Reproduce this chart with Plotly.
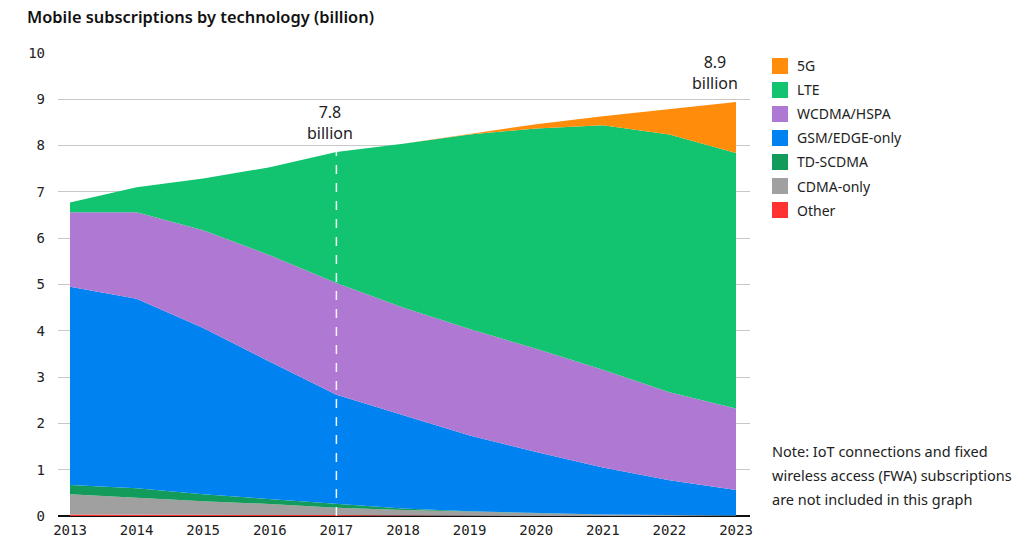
import plotly.graph_objects as go

years = [2013, 2014, 2015, 2016, 2017, 2018, 2019, 2020, 2021, 2022, 2023]

# values in billions, bottom of stack first
other    = [0.03, 0.03, 0.03, 0.02, 0.02, 0.01, 0.00, 0.00, 0.00, 0.00, 0.00]
cdma     = [0.44, 0.36, 0.29, 0.24, 0.16, 0.12, 0.09, 0.06, 0.03, 0.02, 0.01]
tdscdma  = [0.20, 0.21, 0.15, 0.11, 0.08, 0.03, 0.01, 0.00, 0.00, 0.00, 0.00]
gsm      = [4.28, 4.09, 3.59, 2.96, 2.36, 2.02, 1.64, 1.32, 1.02, 0.75, 0.55]
wcdma    = [1.61, 1.87, 2.11, 2.30, 2.41, 2.32, 2.30, 2.23, 2.11, 1.90, 1.76]
lte      = [0.21, 0.54, 1.12, 1.90, 2.83, 3.54, 4.20, 4.76, 5.28, 5.57, 5.52]
fiveg    = [0.00, 0.00, 0.00, 0.00, 0.00, 0.00, 0.01, 0.09, 0.19, 0.54, 1.10]

series_names = ["Other", "CDMA-only", "TD-SCDMA", "GSM/EDGE-only", "WCDMA/HSPA", "LTE", "5G"]
series_values = [other, cdma, tdscdma, gsm, wcdma, lte, fiveg]
series_colors = ["#FF3232", "#A0A0A0", "#129B5A", "#0082F0", "#AF78D2", "#12C46F", "#FF8C0A"]

y_ticks = [0, 1, 2, 3, 4, 5, 6, 7, 8, 9, 10]
callouts = [(2017, 7.85, "7.8<br>billion"), (2023, 8.94, "8.9<br>billion")]

title_text = "Mobile subscriptions by technology (billion)"
note_lines = ["Note: IoT connections and fixed",
              "wireless access (FWA) subscriptions",
              "are not included in this graph"]

SANS = "Noto Sans, Open Sans, sans-serif"
MONO = "DejaVu Sans Mono, monospace"

FW, FH = 1024, 557

fig = go.Figure()
for name, vals, col in zip(series_names, series_values, series_colors):
    fig.add_trace(go.Scatter(
        x=years, y=vals, name=name, mode="lines",
        stackgroup="one", line=dict(width=0, color=col),
        fillcolor=col, showlegend=False, hoverinfo="x+y+name"))

# plot area geometry in page pixels
L, R, T, B = 58, 750, 52, 516
W, H = R - L, B - T

def px_x(px):
    return (px - L) / W

def px_y(py):
    return (B - py) / H

# dashed marker at 2017
fig.add_shape(type="line", xref="x", yref="y", x0=2017, x1=2017, y0=0, y1=8,
              line=dict(color="rgba(255,255,255,0.95)", width=1.5, dash="dash"), layer="above")

# callout annotations
fig.add_annotation(x=2017, y=callouts[0][1], xref="x", yref="y", text=callouts[0][2],
                   showarrow=False, yanchor="bottom", yshift=6, xshift=-6,
                   font=dict(family=SANS, size=16, color="#222"), align="center")
fig.add_annotation(x=2023, y=callouts[1][1], xref="x", yref="y", text=callouts[1][2],
                   showarrow=False, yanchor="bottom", yshift=6, xshift=-21,
                   font=dict(family=SANS, size=16, color="#222"), align="center")

# manual legend (top: 5G)
legend_order = list(zip(series_names, series_colors))[::-1]
for i, (name, col) in enumerate(legend_order):
    cy = 66 + 24 * i
    fig.add_shape(type="rect", xref="paper", yref="paper",
                  x0=px_x(772), x1=px_x(788), y0=px_y(cy + 8), y1=px_y(cy - 8),
                  fillcolor=col, line=dict(width=0))
    fig.add_annotation(xref="paper", yref="paper", x=px_x(795), y=px_y(cy),
                       text=name, showarrow=False, xanchor="left", yanchor="middle",
                       font=dict(family=SANS, size=14, color="#222"))

# note
for i, line in enumerate(note_lines):
    fig.add_annotation(xref="paper", yref="paper", x=px_x(770), y=px_y(451 + 24 * i),
                       text=line, showarrow=False, xanchor="left", yanchor="middle",
                       align="left", font=dict(family=SANS, size=14.5, color="#222"))

fig.update_layout(
    width=FW, height=FH,
    margin=dict(l=L, r=FW - R, t=T, b=FH - B),
    paper_bgcolor="white", plot_bgcolor="white",
    title=dict(text=title_text, x=27 / FW, xanchor="left",
               y=1 - 17 / FH, yanchor="middle",
               font=dict(family=SANS, size=16.4, color="#111", weight=600)),
    xaxis=dict(range=[2012.82, 2023.21], tickvals=years, ticktext=[str(y) for y in years],
               showgrid=False, zeroline=False, showline=False, ticks="",
               tickfont=dict(family=MONO, size=14, color="#222"), ticklabelstandoff=4),
    yaxis=dict(range=[0, 10.02], tickvals=y_ticks, showgrid=True, gridcolor="#C8C8C8",
               gridwidth=1, zeroline=True, zerolinecolor="#111", zerolinewidth=2,
               showline=False, ticks="", ticklabelstandoff=12,
               tickfont=dict(family=MONO, size=14, color="#222")),
    hovermode="x unified",
)

fig.write_html("out.html", config={"displayModeBar": False},
               post_script="document.body.style.margin='0';document.body.style.overflow='hidden';")
